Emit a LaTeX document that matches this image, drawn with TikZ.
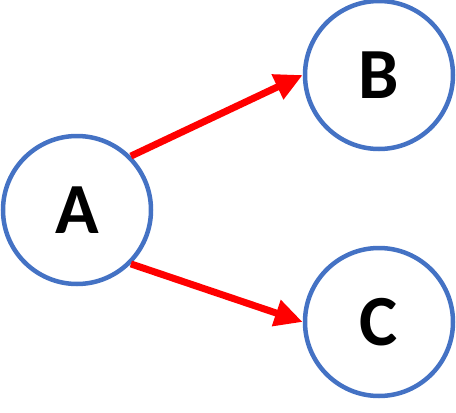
\documentclass[tikz,border=0pt]{standalone}
\usepackage{fontspec}
\setmainfont{Carlito}
\usetikzlibrary{arrows.meta}
\definecolor{cblue}{HTML}{4472C4}
\definecolor{cred}{HTML}{FF0000}
\begin{document}
\begin{tikzpicture}[x=1pt,y=-1pt,
  vertex/.style={circle,draw=cblue,line width=4.5pt,minimum size=148pt,inner sep=0pt,
    font=\fontsize{72}{72}\selectfont\bfseries},
  link/.style={draw=cred,line width=7pt,-{Triangle[length=28pt,width=26pt]}}]
\useasboundingbox (0,0) rectangle (456,413);
\node[vertex] (A) at (77,210) {A};
\node[vertex] (B) at (379,75) {B};
\node[vertex] (C) at (379,322) {C};
\draw[link] (A.45) -- (B.west);
\draw[link] (A.-45) -- (C.west);
\end{tikzpicture}
\end{document}
